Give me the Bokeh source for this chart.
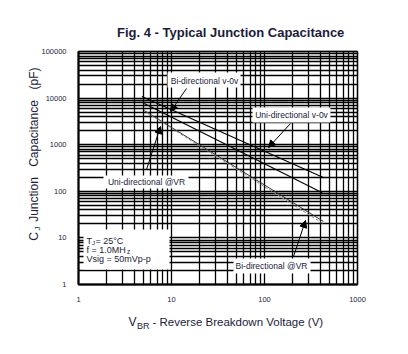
import math
from bokeh.plotting import figure
from bokeh.models import Label, Arrow, NormalHead, BoxAnnotation, FixedTicker, Range1d
from bokeh.embed import file_html
from bokeh.resources import INLINE

# ---- data ----
uni_v0_x = [4.8, 435]
uni_v0_y = [10800, 195]
bi_v0_x = [5.1, 418]
bi_v0_y = [7700, 93]
uni_vr_x = [5.1, 430]
uni_vr_y = [5400, 22.5]
bi_vr_x = [5.4, 440]
bi_vr_y = [4900, 19.5]

x_ticks = [1, 10, 100, 1000]
x_tick_labels = ["1", "10", "100", "1000"]
y_ticks = [1, 10, 100, 1000, 10000, 100000]
y_tick_labels = ["1", "10", "100", "1000", "10000", "100000"]

W, H = 408, 354
L, R, T, B = 78, 357, 51, 284   # chart box in canvas pixels

def dx(px):
    return 10 ** ((px - L) / ((R - L) / 3.0))

def dy(py):
    return 10 ** ((B - py) / ((B - T) / 5.0))

p = figure(width=W, height=H, x_axis_type="log", y_axis_type="log",
           x_range=Range1d(dx(0), dx(W)), y_range=Range1d(dy(H), dy(0)),
           output_backend="svg", toolbar_location=None,
           min_border_left=0, min_border_right=0, min_border_top=0, min_border_bottom=0)
p.title.visible = False
p.background_fill_color = "white"
p.border_fill_color = "white"
p.outline_line_color = None

x_minor = [m * t for t in x_ticks[:-1] for m in range(2, 10)]
y_minor = [m * t for t in y_ticks[:-1] for m in range(2, 10)]
p.xaxis.ticker = FixedTicker(ticks=x_ticks, minor_ticks=x_minor)
p.yaxis.ticker = FixedTicker(ticks=y_ticks, minor_ticks=y_minor)
p.xaxis.major_label_overrides = dict(zip(x_ticks, x_tick_labels))
p.yaxis.major_label_overrides = dict(zip(y_ticks, y_tick_labels))
p.xaxis.fixed_location = y_ticks[0]
p.yaxis.fixed_location = x_ticks[0]
p.xaxis.bounds = (x_ticks[0], x_ticks[-1])
p.yaxis.bounds = (y_ticks[0], y_ticks[-1])

for ax in (p.xaxis, p.yaxis):
    ax.axis_line_color = "black"
    ax.axis_line_width = 2
    ax.major_tick_line_color = None
    ax.minor_tick_line_color = None
    ax.major_label_text_font = "Liberation Sans"
    ax.major_label_text_font_size = "7.5px"
    ax.major_label_text_color = "#1b1b3a"
    ax.major_label_standoff = 6

p.xgrid.bounds = (x_ticks[0], x_ticks[-1])
p.xgrid.cross_bounds = (y_ticks[0], y_ticks[-1])
p.ygrid.bounds = (y_ticks[0], y_ticks[-1])
p.ygrid.cross_bounds = (x_ticks[0], x_ticks[-1])
for g in (p.xgrid, p.ygrid):
    g.grid_line_color = "black"
    g.grid_line_width = 1.3
    g.minor_grid_line_color = "black"
    g.minor_grid_line_width = 1.3

# chart border
p.add_layout(BoxAnnotation(left=x_ticks[0], right=x_ticks[-1], bottom=y_ticks[0], top=y_ticks[-1],
                           fill_alpha=0, line_color="black", line_width=2, level="underlay"))

# curves
p.line(uni_v0_x, uni_v0_y, line_color="black", line_width=1.1)
p.line(bi_v0_x, bi_v0_y, line_color="black", line_width=1.1)
p.line(uni_vr_x, uni_vr_y, line_color="#333333", line_width=1.0)
p.line(bi_vr_x, bi_vr_y, line_color="#888888", line_width=1.0, line_dash="3 2")

# white label boxes
boxes = [(167, 240, 72, 87), (252, 330, 107, 122), (103, 188, 175, 188),
         (233, 310, 258, 273), (83, 169, 229, 269)]
for l_, r_, t_, b_ in boxes:
    p.add_layout(BoxAnnotation(left=dx(l_), right=dx(r_), top=dy(t_), bottom=dy(b_),
                               fill_color="white", fill_alpha=1.0, line_color=None))

TXT = "#1b1b3a"

def lab(px, py, text, size="8.5px", align="center", font="Liberation Sans",
        style="normal", angle=0.0, baseline="middle"):
    p.add_layout(Label(x=dx(px), y=dy(py), text=text, text_font=font,
                       text_font_size=size, text_align=align, text_baseline=baseline,
                       text_font_style=style, angle=angle, text_color=TXT))

lab(204, 80, "Bi-directional v-0v")
lab(291, 114, "Uni-directional v-0v")
lab(146, 181, "Uni-directional @VR")
lab(271, 265, "Bi-directional @VR")

# conditions box
lab(86, 240, "T", size="9px", align="left")
lab(91.5, 242, "J", size="6px", align="left")
lab(95, 240, "= 25°C", size="9px", align="left")
lab(86, 249.5, "f = 1.0MH", size="9px", align="left")
lab(126.5, 251, "z", size="6.5px", align="left")
lab(86, 258.5, "Vsig = 50mVp-p", size="9px", align="left")

# arrows
arrows = [(186, 88, 170, 111), (290, 123, 268, 147), (146, 169, 160, 126), (293, 256, 305, 220)]
for xs, ys, xe, ye in arrows:
    p.add_layout(Arrow(end=NormalHead(size=7, fill_color="black", line_color="black", line_width=1),
                       x_start=dx(xs), y_start=dy(ys), x_end=dx(xe), y_end=dy(ye),
                       line_color="black", line_width=1))

# title
lab(232, 32, "Fig.  4 - Typical Junction Capacitance", size="13px", style="bold")

# x axis title
lab(128, 321, "V", size="12px", align="left")
lab(136.5, 325, "BR", size="9px", align="left")
lab(152, 321, "- Reverse Breakdown Voltage (V)", size="11.5px", align="left")

# y axis title (rotated)
A = math.pi / 2
lab(33, 236, "C", size="12px", angle=A)
lab(37, 228, "J", size="8px", angle=A)
lab(33, 199, "Junction", size="12px", angle=A)
lab(33, 133, "Capacitance", size="12px", angle=A)
lab(33, 78, "(pF)", size="12px", angle=A)

open("out.html", "w").write(file_html(p, INLINE))
